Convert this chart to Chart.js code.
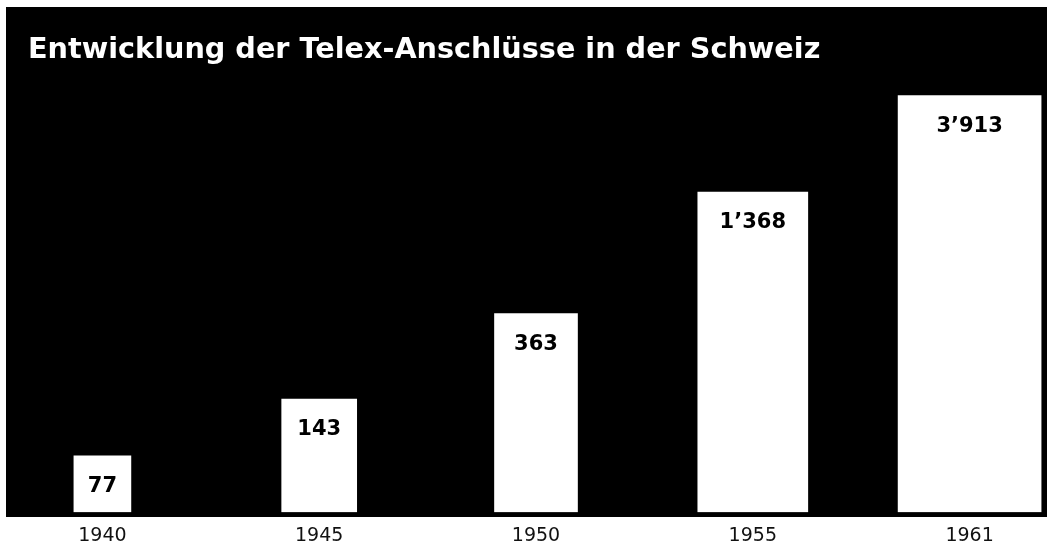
<!DOCTYPE html>
<html>
<head>
<meta charset="utf-8">
<script src="https://cdn.jsdelivr.net/npm/chart.js@4/dist/chart.umd.min.js"></script>
<style>
  html, body { margin: 0; padding: 0; background: #fff; overflow: hidden; }
  #panel { position: absolute; left: 6px; top: 7px; width: 1041px; height: 510px; background: #000; }
  #telex { position: absolute; left: -6px; top: 0; }
</style>
</head>
<body>
<div id="panel"></div>
<canvas id="telex" width="1084" height="563"></canvas>
<script>
const title = 'Entwicklung der Telex-Anschlüsse in der Schweiz';
const years = ['1940', '1945', '1950', '1955', '1961'];
const connections = [77, 143, 363, 1368, 3913];
const barWidths = [57, 75, 83, 110, 143];

// swiss thousands separator
function fmt(v) {
    return String(v).replace(/\B(?=(\d{3})+(?!\d))/g, '’');
}

const titlePlugin = {
    id: 'panelTitle',
    beforeDraw(chart) {
        const ctx = chart.ctx;
        ctx.save();
        ctx.font = 'bold 28.7px "DejaVu Sans"';
        ctx.fillStyle = '#fff';
        ctx.textAlign = 'left';
        ctx.textBaseline = 'alphabetic';
        ctx.fillText(title, 34, 58);
        ctx.restore();
    }
};

const valueLabels = {
    id: 'valueLabels',
    afterDatasetsDraw(chart) {
        const ctx = chart.ctx;
        ctx.save();
        ctx.font = 'bold 21px "DejaVu Sans"';
        ctx.fillStyle = '#000';
        ctx.textAlign = 'center';
        ctx.textBaseline = 'top';
        chart.data.datasets.forEach((ds, i) => {
            chart.getDatasetMeta(i).data.forEach((bar, j) => {
                if (ds.data[j] == null) return;
                ctx.fillText(fmt(ds.data[j]), bar.x, bar.y + 20);
            });
        });
        ctx.restore();
    }
};

// one dataset per year so every bar can have its own width
const datasets = connections.map((v, i) => ({
    label: years[i],
    data: connections.map((c, j) => j === i ? c : null),
    backgroundColor: '#fff',
    borderWidth: 0,
    barThickness: barWidths[i],
    grouped: false
}));

new Chart(document.getElementById('telex'), {
    type: 'bar',
    data: { labels: years, datasets },
    options: {
        responsive: false,
        animation: false,
        devicePixelRatio: 1,
        layout: { padding: { top: 75, bottom: 4, left: 0, right: 0 } },
        plugins: {
            legend: { display: false },
            tooltip: { enabled: false }
        },
        scales: {
            x: {
                grid: { display: false, drawTicks: false },
                border: { display: false },
                ticks: {
                    color: '#111',
                    padding: 12,
                    font: { family: 'DejaVu Sans', size: 19 }
                }
            },
            y: {
                type: 'logarithmic',
                display: false,
                min: 41.6,
                max: 4900
            }
        }
    },
    plugins: [titlePlugin, valueLabels]
});
</script>
</body>
</html>
